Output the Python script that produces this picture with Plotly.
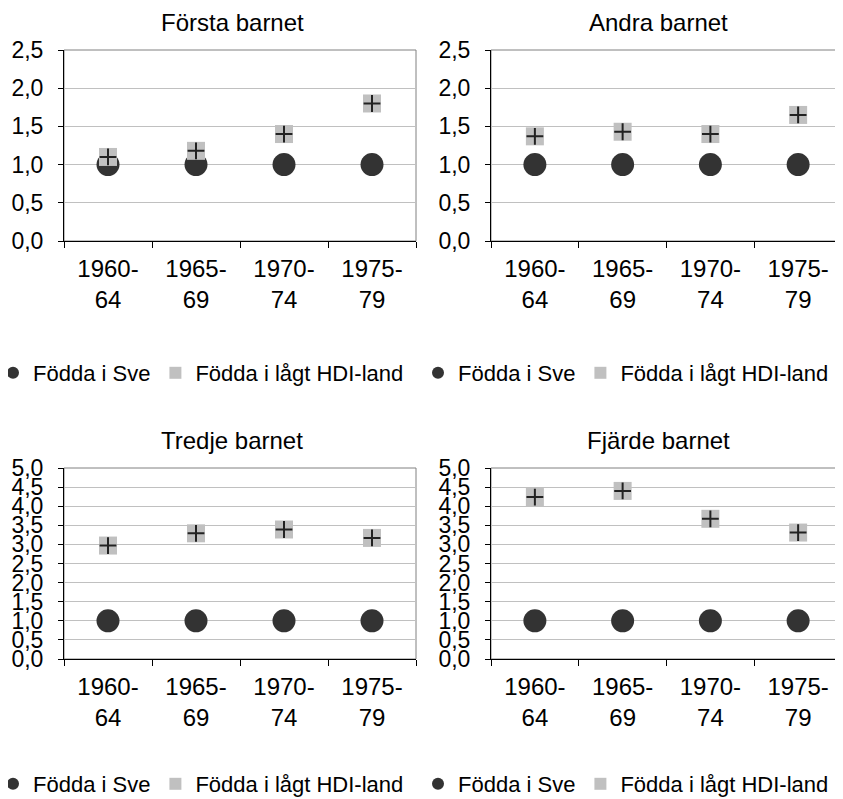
import plotly.graph_objects as go

# ---------------- data ----------------
categories = ["1960-64", "1965-69", "1970-74", "1975-79"]
tick_labels = ["1960-<br>64", "1965-<br>69", "1970-<br>74", "1975-<br>79"]
titles = ["Första barnet", "Andra barnet", "Tredje barnet", "Fjärde barnet"]
name_sve = "Födda i Sve"
name_hdi = "Födda i lågt HDI-land"

sve_first = [1.0, 1.0, 1.0, 1.0]
sve_second = [1.0, 1.0, 1.0, 1.0]
sve_third = [1.0, 1.0, 1.0, 1.0]
sve_fourth = [1.0, 1.0, 1.0, 1.0]

hdi_first = [1.10, 1.18, 1.40, 1.80]
hdi_second = [1.37, 1.43, 1.40, 1.65]
hdi_third = [2.97, 3.29, 3.39, 3.17]
hdi_fourth = [4.24, 4.40, 3.67, 3.31]

y_max = [2.5, 2.5, 5.0, 5.0]

# ---------------- layout helpers ----------------
# The page body has an 8px margin, so the figure is made 8px smaller and
# every position below (given in screen pixels) is shifted by that offset.
OFF = 8
W, H = 843 - OFF, 799 - OFF
FONT = "Liberation Sans, Arial, sans-serif"


def fx(p):
    return (p - OFF) / W


def fy(p):
    return 1 - (p - OFF) / H


x_dom = [(64, 416), (491, 842), (64, 416), (491, 842)]
y_dom = [(50, 241), (50, 241), (468, 659), (468, 659)]
title_pos = [(232, 22), (658, 22), (232, 440), (658, 440)]
legend_pos = [(-7, 373), (418, 373), (-7, 784), (418, 784)]

sve_all = [sve_first, sve_second, sve_third, sve_fourth]
hdi_all = [hdi_first, hdi_second, hdi_third, hdi_fourth]

fig = go.Figure()
layout = dict(
    width=W, height=H,
    margin=dict(l=0, r=0, t=0, b=0, autoexpand=False),
    paper_bgcolor="white", plot_bgcolor="white",
    font=dict(family=FONT, size=23, color="black"),
    separators=", ",
    annotations=[], shapes=[],
)

for i in range(4):
    n = "" if i == 0 else str(i + 1)
    xa, ya = "x" + n, "y" + n
    leg = "legend" + n
    fig.add_trace(go.Scatter(
        x=categories, y=sve_all[i], xaxis=xa, yaxis=ya, mode="markers",
        name=name_sve, legend=leg,
        marker=dict(symbol="circle", size=23, color="#333333"),
        hoverinfo="skip"))
    fig.add_trace(go.Scatter(
        x=categories, y=hdi_all[i], xaxis=xa, yaxis=ya, mode="markers",
        name=name_hdi, legend=leg, legendgroup="hdi" + n,
        marker=dict(symbol="square", size=18, color="#C0C0C0"),
        hoverinfo="skip"))
    fig.add_trace(go.Scatter(
        x=categories, y=hdi_all[i], xaxis=xa, yaxis=ya, mode="markers",
        name=name_hdi, legend=leg, legendgroup="hdi" + n, showlegend=False,
        marker=dict(symbol="cross-thin", size=12,
                    line=dict(color="#222222", width=2)),
        hoverinfo="skip"))

    layout["xaxis" + n] = dict(
        domain=[fx(x_dom[i][0]), fx(x_dom[i][1])], anchor=ya,
        type="category", categoryorder="array", categoryarray=categories,
        range=[-0.5, 3.5], tickmode="array", tickvals=categories,
        ticktext=tick_labels, tickson="boundaries",
        ticks="outside", ticklen=6, tickcolor="black", tickwidth=1,
        showline=True, linecolor="black", linewidth=1,
        showgrid=False, zeroline=False, ticklabelstandoff=6,
        tickfont=dict(family=FONT, size=24, color="black"),
        automargin=False, fixedrange=True,
    )
    layout["yaxis" + n] = dict(
        domain=[fy(y_dom[i][1]), fy(y_dom[i][0])], anchor=xa,
        range=[0, y_max[i]], dtick=0.5, tick0=0, tickformat=".1f",
        ticks="outside", ticklen=5, tickcolor="black", tickwidth=1,
        showline=True, linecolor="black", linewidth=1,
        showgrid=True, gridcolor="#C0C0C0", gridwidth=1, zeroline=False,
        ticklabelstandoff=10,
        tickfont=dict(family=FONT, size=23, color="black"),
        automargin=False, fixedrange=True,
    )
    layout["shapes"].append(dict(
        type="rect", xref=xa + " domain", yref=ya + " domain",
        x0=0, x1=1, y0=0, y1=1, layer="below",
        line=dict(color="#808080", width=1)))
    layout["annotations"].append(dict(
        text=titles[i], x=fx(title_pos[i][0]), y=fy(title_pos[i][1]),
        xref="paper", yref="paper", xanchor="center", yanchor="middle",
        showarrow=False, font=dict(family=FONT, size=24, color="black")))
    layout[leg] = dict(
        orientation="h", x=fx(legend_pos[i][0]), y=fy(legend_pos[i][1]),
        xanchor="left", yanchor="middle", bgcolor="rgba(0,0,0,0)",
        font=dict(family=FONT, size=22, color="black"),
        itemwidth=30, tracegroupgap=0, itemsizing="constant",
    )

fig.update_layout(**layout)
fig.write_html("out.html", config={"displayModeBar": False})
